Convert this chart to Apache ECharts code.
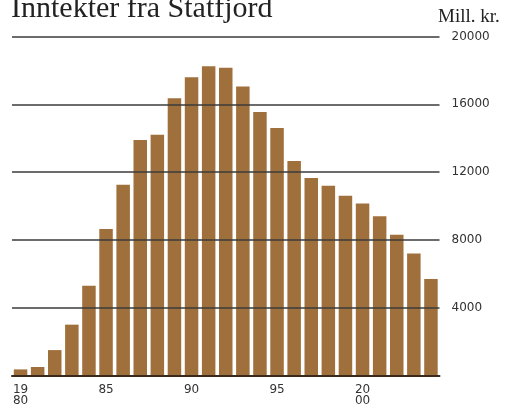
<!DOCTYPE html>
<html>
<head>
<meta charset="utf-8">
<script src="https://cdn.jsdelivr.net/npm/echarts@6/dist/echarts.min.js"></script>
<style>
html,body{margin:0;padding:0;background:#fff;}
#chart{width:508px;height:409px;}
</style>
</head>
<body>
<div id="chart"></div>
<script>
var years = ['1980','1981','1982','1983','1984','1985','1986','1987','1988','1989','1990','1991','1992','1993','1994','1995','1996','1997','1998','1999','2000','2001','2002','2003','2004'];
var income = [360, 500, 1500, 3000, 5300, 8650, 11250, 13900, 14200, 16350, 17600, 18250, 18150, 17050, 15550, 14600, 12650, 11650, 11200, 10600, 10150, 9400, 8300, 7200, 5700];
var xTickLabels = ['19\n80','','','','','85','','','','','90','','','','','95','','','','','20\n00','','','',''];
var yTicks = [0, 4000, 8000, 12000, 16000, 20000];
var titleText = 'Inntekter fra Statfjord';
var unitText = 'Mill. kr.';

var chart = echarts.init(document.getElementById('chart'), null, {renderer:'canvas'});
chart.setOption({
  animation: false,
  backgroundColor: '#ffffff',
  graphic: [
    {type:'text', left: 11, top: -6, style:{text: titleText, font: '30px "Liberation Serif", serif', fill:'#222'}},
    {type:'text', left: 438, top: 8, style:{text: unitText, font: '19px "Liberation Serif", serif', fill:'#222'}}
  ],
  grid: {left: 12, right: 68.5, top: 36.5, bottom: 33.5, containLabel: false},
  xAxis: {
    type: 'category',
    data: years,
    boundaryGap: true,
    z: 10,
    axisLine: {show: true, lineStyle: {color: '#3a2a1c', width: 2}},
    axisTick: {show: false},
    axisLabel: {
      interval: 0,
      margin: 9,
      color: '#333',
      fontFamily: 'DejaVu Sans',
      fontSize: 12,
      lineHeight: 11,
      formatter: function(v, i){ return xTickLabels[i]; }
    },
    splitLine: {show: false}
  },
  yAxis: {
    type: 'value',
    position: 'right',
    min: yTicks[0],
    max: yTicks[yTicks.length-1],
    interval: 4000,
    axisLine: {show: false},
    axisTick: {show: false},
    axisLabel: {
      margin: 12,
      color: '#333',
      fontFamily: 'DejaVu Sans',
      fontSize: 12,
      formatter: function(v){ return v === 0 ? '' : String(v); }
    },
    splitLine: {show: false}
  },
  series: [{
    type: 'bar',
    data: income,
    barWidth: 13.5,
    itemStyle: {color: '#a0703c'},
    markLine: {
      silent: true,
      symbol: 'none',
      label: {show: false},
      lineStyle: {color: '#3b3b3b', width: 1.5, type: 'solid'},
      data: yTicks.slice(1).map(function(t){ return {yAxis: t}; })
    }
  }]
});
</script>
</body>
</html>
